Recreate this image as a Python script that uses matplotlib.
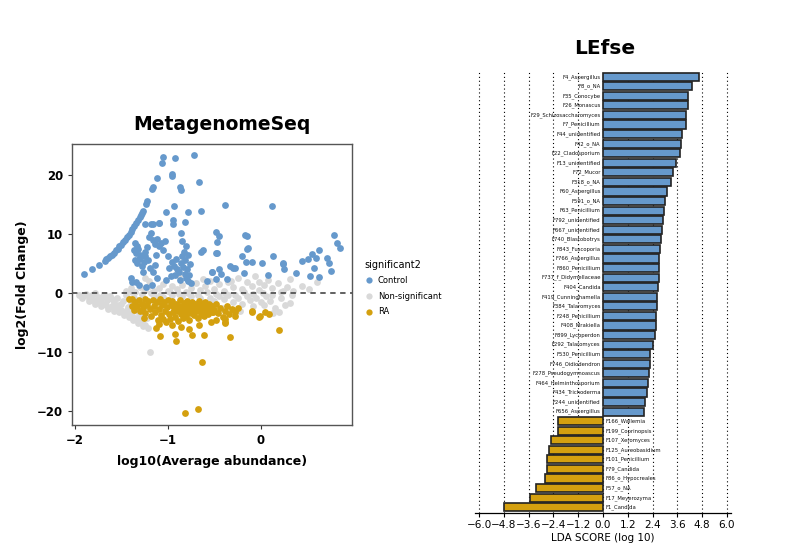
import matplotlib
matplotlib.use("Agg")
import matplotlib.pyplot as plt
from matplotlib.lines import Line2D

# ---------------- MetagenomeSeq scatter data ----------------
control_x = [-1.90,-1.81,-1.74,-1.68,-1.66,-1.64,-1.62,-1.60,-1.58,-1.56,-1.54,-1.52,-1.50,-1.48,-1.46,-1.44,-1.42,-1.40,-1.38,-1.36,-1.34,-1.32,-1.30,-1.29,-1.28,-1.27,-1.23,-1.22,-1.17,-1.16,-1.12,-1.06,-1.05,
             -1.35,-1.33,-1.36,-1.34,-1.32,-1.30,-1.31,-1.35,-1.33,-1.28,-1.26,-1.28,-1.25,-1.24,-1.22,-1.20,-1.18,-1.16,-1.14,-1.12,-1.10,-1.21,-1.19,-1.16,-1.14,-1.13,-1.24,-1.18,-1.09,-1.07,-1.05,-1.03,-1.00,-1.27,-1.12,-1.02,-1.31,-1.34,-1.23,-1.17,-1.40,-1.39,
             -0.95,-0.93,-0.91,-0.90,-0.88,-0.86,-0.85,-0.84,-0.82,-0.81,-0.80,-0.79,-0.78,-0.77,-0.76,-0.87,-0.92,-0.83,-0.80,-0.78,-0.97,-0.99,-0.75,
             -0.92,-0.72,-0.96,-0.95,-0.87,-0.86,-0.66,-1.02,-0.93,-0.78,-0.64,-1.16,-1.09,-0.94,-0.94,-0.81,-0.86,-0.85,-0.62,-0.64,-0.52,-0.48,
             -0.38,0.115,-0.48,-0.45,-0.47,-0.47,-0.17,-0.15,-0.15,-0.20,-0.16,-0.09,0.01,0.13,-0.33,-0.28,-0.45,-0.52,-0.43,-0.48,-0.18,0.08,0.24,0.25,0.38,0.44,0.51,0.55,0.62,0.59,0.57,0.53,0.63,0.71,0.73,0.75,0.79,0.82,0.85,-0.30,-0.58,-0.36,-0.14,0.24]
control_y = [3.2,4.0,4.7,5.4,5.7,6.0,6.2,6.4,6.8,7.2,7.5,7.9,8.2,8.6,9.0,9.4,9.8,10.3,10.8,11.3,11.8,12.3,12.8,13.2,13.5,13.9,15.1,15.5,17.6,18.0,19.4,22.0,23.0,
             8.5,8.0,7.2,6.8,7.5,6.5,5.8,5.5,5.0,4.5,5.2,6.2,7.0,6.3,7.8,9.5,10.2,9.0,8.3,9.2,8.0,5.5,4.2,3.5,4.8,6.5,11.6,11.7,11.8,8.5,7.3,8.8,6.2,3.6,2.6,2.2,1.3,1.8,1.0,1.4,2.5,1.9,
             5.2,4.6,5.8,4.0,3.5,5.0,6.3,4.4,3.2,5.5,2.6,4.0,6.5,3.0,4.9,2.2,3.0,7.0,8.0,2.0,2.8,4.2,1.6,
             22.8,23.3,20.1,19.8,17.9,17.5,18.8,13.8,14.7,13.7,13.9,11.7,11.8,12.3,11.6,12.0,10.2,8.8,7.3,6.9,3.6,6.7,
             14.9,14.7,10.4,9.7,8.6,6.7,9.9,9.7,7.4,6.2,5.2,5.2,5.0,6.2,4.5,4.2,4.1,3.6,3.2,2.4,3.3,3.1,4.9,4.1,3.3,5.4,5.7,6.6,7.2,6.0,4.2,2.8,2.7,6.0,5.0,3.7,9.9,8.4,7.6,4.3,2.0,2.4,7.6,5.1]

nonsig_x = [-1.95,-1.91,-1.88,-1.85,-1.82,-1.80,-1.78,-1.76,-1.75,-1.72,-1.70,-1.68,-1.66,-1.65,-1.62,-1.60,-1.58,-1.56,-1.55,-1.52,-1.50,-1.48,-1.46,-1.45,-1.43,-1.41,-1.40,-1.38,-1.36,-1.34,-1.33,-1.31,-1.29,-1.28,-1.26,-1.24,-1.22,-1.21,-1.19,
            -1.92,-1.85,-1.78,-1.72,-1.64,-1.58,-1.52,-1.47,-1.42,-1.37,-1.32,-1.27,-1.70,-1.60,-1.50,-1.44,-1.36,-1.30,
            -1.45,-1.40,-1.35,-1.30,-1.25,-1.20,-1.15,-1.10,-1.05,-1.00,-0.95,-0.90,-0.85,-0.80,-0.75,-0.70,-0.65,-0.60,-0.55,-0.50,-0.45,-0.40,-0.35,-0.30,-0.25,-0.20,-0.15,-0.10,-0.06,-0.02,0.03,0.08,0.12,0.18,0.24,0.31,0.28,0.60,0.35,-1.25,-1.20,-0.88,
            -1.15,-1.05,-0.95,-0.85,-0.75,-0.65,-0.55,-0.50,-0.45,-0.40,-0.35,-0.30,-0.25,-0.20,-0.15,-0.12,-0.08,-0.05,0.00,0.03,0.06,0.10,0.15,0.20,0.22,0.26,0.31,0.13,-0.22,-0.42,0.34,
            -1.38,-1.28,-1.18,-1.08,-0.98,-0.88,-0.78,-0.68,-0.58,-0.48,-0.38,-0.28,-0.18,-0.08,0.02,0.12,0.22,-0.62,-0.32,-0.02,0.44,0.52]
nonsig_y = [-0.3,-0.6,-0.2,-0.9,-0.4,-1.2,-0.1,-1.5,-0.7,-1.0,-1.8,-0.3,-2.0,-1.2,-0.6,-2.3,-1.5,-2.6,-0.9,-2.0,-2.9,-1.3,-3.2,-0.4,-2.4,-3.6,-1.6,-3.9,-0.8,-4.3,-3.0,-4.7,-2.1,-5.0,-3.7,-5.5,-4.3,-6.0,-10.1,
            -0.9,-1.4,-1.9,-2.2,-2.7,-3.0,-3.3,-3.7,-4.1,-4.6,-5.1,-5.6,-0.5,-1.0,-1.8,-2.9,-2.5,-3.8,
            0.3,0.8,0.2,1.0,0.5,1.2,0.3,0.9,1.5,0.4,1.1,0.6,1.4,0.2,0.9,1.6,0.5,1.2,2.0,0.7,1.5,0.3,1.9,1.0,2.5,0.6,1.8,1.1,2.8,0.5,1.4,2.2,0.8,1.6,0.4,2.4,1.0,1.9,0.3,2.5,2.0,2.8,
            -0.5,-0.7,-0.4,-0.6,-0.5,-0.8,-0.9,-1.4,-0.6,-1.1,-0.4,-1.5,-0.8,-1.9,-0.5,-1.2,-2.3,-0.9,-1.6,-2.0,-0.6,-1.3,-2.5,-3.2,-0.9,-2.0,-1.7,-3.4,-3.0,-2.6,-0.4,
            0.1,-0.2,0.0,-0.3,0.1,-0.2,0.0,-0.3,0.1,-0.2,0.0,-0.3,0.1,-0.2,0.0,-0.3,0.1,2.3,2.1,1.9,1.2,0.6]

ra_x = [-1.42,-1.38,-1.35,-1.33,-1.31,-1.30,-1.28,-1.27,-1.25,-1.24,-1.22,-1.21,-1.19,-1.18,-1.16,-1.15,-1.14,-1.12,-1.11,-1.10,-1.09,-1.08,-1.07,-1.06,-1.05,-1.04,-1.03,-1.02,-1.01,-1.00,-0.99,-0.98,-0.97,-0.96,-0.95,-0.94,-0.93,-0.92,-0.91,-0.90,-0.89,-0.88,-0.87,-0.86,-0.85,-0.84,-0.83,-0.82,-0.81,-0.80,-0.79,-0.78,-0.77,-0.76,-0.75,-0.74,-0.73,-0.72,-0.71,-0.70,-0.69,-0.68,-0.67,-0.66,-0.65,-0.64,-0.63,-0.62,-0.61,-0.60,-0.59,-0.58,-0.57,-0.56,-0.55,-0.54,-0.53,-0.52,-0.50,-0.48,-0.46,-0.44,-0.41,-0.39,-0.38,-0.36,-0.34,-0.31,-0.28,-0.25,-0.10,-0.01,0.05,0.09,
        -1.08,-0.92,-0.91,-0.77,-0.74,-0.61,-0.63,-0.82,-0.68,-0.33,0.19,-1.13,-0.86,-0.48,-0.28,-0.38,-1.38,-1.26,-1.36,-0.51,-0.39,-0.09,-0.02]
ra_y = [-1.1,-1.0,-1.5,-2.2,-1.2,-3.0,-1.8,-2.6,-1.1,-3.4,-2.0,-1.4,-2.8,-4.0,-1.2,-2.3,-3.3,-1.6,-4.6,-2.7,-5.3,-1.1,-3.8,-2.1,-4.4,-1.5,-3.0,-5.0,-2.4,-1.2,-3.6,-4.5,-2.0,-5.5,-1.4,-3.2,-2.6,-4.1,-1.8,-3.0,-4.8,-2.2,-1.2,-3.5,-2.8,-4.2,-1.7,-3.1,-2.4,-3.9,-1.3,-2.9,-4.6,-2.0,-3.4,-1.6,-2.6,-3.8,-1.9,-3.0,-2.3,-4.2,-1.4,-5.4,-2.8,-3.5,-1.8,-2.5,-4.0,-1.6,-3.1,-2.2,-3.6,-1.9,-2.7,-5.0,-3.2,-2.2,-2.9,-1.8,-3.4,-2.5,-4.1,-5.1,-3.0,-2.3,-3.6,-2.8,-3.3,-2.6,-3.05,-4.0,-3.3,-3.6,
        -7.3,-7.0,-8.1,-6.1,-7.1,-7.1,-11.7,-20.3,-19.7,-7.5,-6.3,-5.9,-5.8,-4.6,-4.0,-4.4,-2.2,-4.3,-2.9,-3.2,-5.0,-3.2,-4.1]

# ---------------- LEfSe data ----------------
lefse_labels = ["F4_Aspergillus","F8_o_NA","F35_Conocybe","F26_Monascus","F29_Schizosaccharomyces",
                "F7_Penicillium","F44_unidentified","F42_o_NA","F22_Cladosporium","F13_unidentified",
                "F72_Mucor","F318_o_NA","F60_Aspergillus","F591_o_NA","F63_Penicillium",
                "F792_unidentified","F667_unidentified","F740_Blastobotrys","F843_Fuscoporia","F766_Aspergillus",
                "F860_Penicillium","F737_f_Didymellaceae","F404_Candida","F419_Cunninghamella","F384_Talaromyces",
                "F248_Penicillium","F408_Mrakiella","F899_Lycoperdon","F292_Talaromyces","F530_Penicillium",
                "F746_Oidiodendron","F278_Pseudogymnoascus","F464_Helminthosporium","F434_Trichoderma","F244_unidentified",
                "F656_Aspergillus",
                "F166_Wallemia","F199_Coprinopsis","F107_Xeromyces","F125_Aureobasidium","F101_Penicillium",
                "F79_Candida","F86_o_Hypocreales","F57_o_NA","F17_Meyerozyma","F1_Candida"]
lefse_scores = [4.66,4.30,4.13,4.10,4.00,4.00,3.83,3.80,3.75,3.55,3.40,3.30,3.10,3.00,2.97,2.92,2.87,2.80,2.78,2.73,
                2.72,2.70,2.68,2.60,2.60,2.58,2.57,2.53,2.42,2.30,2.28,2.23,2.20,2.15,2.04,2.00,
                -2.17,-2.20,-2.50,-2.60,-2.70,-2.73,-2.82,-3.25,-3.55,-4.78]
lda_ticks = [-6.0,-4.8,-3.6,-2.4,-1.2,0.0,1.2,2.4,3.6,4.8,6.0]

BLUE = "#6699CC"
GOLD = "#D4A00F"
GREY = "#D9D9D9"

fig = plt.figure(figsize=(7.88, 5.51), dpi=100)

# ---- left panel ----
ax = fig.add_axes([72/788, 1-425/551, 280/788, 281/551])
ax.scatter(nonsig_x, nonsig_y, s=24, color=GREY, linewidths=0, zorder=2)
ax.scatter(control_x, control_y, s=24, color=BLUE, linewidths=0, zorder=3)
ax.scatter(ra_x, ra_y, s=24, color=GOLD, linewidths=0, zorder=4)
ax.axhline(0, color="#555555", lw=1.3, ls=(0, (3, 2.5)), zorder=5)
ax.set_xlim(-2.03, 0.98)
ax.set_ylim(-22.4, 25.25)
ax.set_xticks([-2, -1, 0])
ax.set_xticklabels(["\u22122", "\u22121", "0"])
ax.set_yticks([-20, -10, 0, 10, 20])
ax.set_yticklabels(["\u221220", "\u221210", "0", "10", "20"])
ax.tick_params(labelsize=8.5, length=3, color="#333333", labelcolor="black")
for t in ax.get_xticklabels() + ax.get_yticklabels():
    t.set_fontweight("bold")
for sp in ax.spines.values():
    sp.set_color("#555555")
    sp.set_linewidth(1.0)
ax.set_xlabel("log10(Average abundance)", fontsize=9, fontweight="bold", labelpad=6)
ax.set_ylabel("log2(Fold Change)", fontsize=9, fontweight="bold", labelpad=6)
fig.text(222/788, 1-125/551, "MetagenomeSeq", ha="center", va="center",
         fontsize=13.5, fontweight="bold")

handles = [Line2D([], [], marker="o", ls="", color=c, markersize=4.5, markeredgewidth=0)
           for c in (BLUE, GREY, GOLD)]
fig.legend(handles, ["Control", "Non-significant", "RA"], title="significant2",
           loc="upper left", bbox_to_anchor=(357/788, 1-252/551), frameon=False,
           fontsize=6, title_fontsize=7, handletextpad=0.6, labelspacing=0.8,
           handlelength=1.0, alignment="left")

# ---- right panel ----
bx = fig.add_axes([475/788, 1-513/551, 256/788, 443/551])
n = len(lefse_labels)
ypos = [n - 1 - i for i in range(n)]
colors = [BLUE if v > 0 else GOLD for v in lefse_scores]
bx.barh(ypos, lefse_scores, height=0.85, color=colors, edgecolor="#222222", linewidth=1.2, zorder=3)
for yy, lab, v in zip(ypos, lefse_labels, lefse_scores):
    if v > 0:
        bx.text(-0.12, yy, lab, ha="right", va="center", fontsize=3.8, color="#111111")
    else:
        bx.text(0.12, yy, lab, ha="left", va="center", fontsize=3.8, color="#111111")
bx.set_xlim(-6.2, 6.2)
bx.set_ylim(-0.6, n - 0.3)
bx.set_xticks(lda_ticks)
bx.set_xticklabels([("%.1f" % t).replace("-", "\u2212") for t in lda_ticks])
bx.xaxis.grid(True, color="black", ls=(0, (1, 2.5)), lw=0.8, zorder=0)
bx.set_yticks([])
for s in ("left", "right", "top"):
    bx.spines[s].set_visible(False)
bx.spines["bottom"].set_linewidth(0.9)
bx.tick_params(axis="x", labelsize=7.5, length=3, pad=2)
bx.set_xlabel("LDA SCORE (log 10)", fontsize=7.5, labelpad=2)
fig.text(605/788, 1-48/551, "LEfse", ha="center", va="center",
         fontsize=14.5, fontweight="bold")

fig.savefig("out.png", dpi=100)
